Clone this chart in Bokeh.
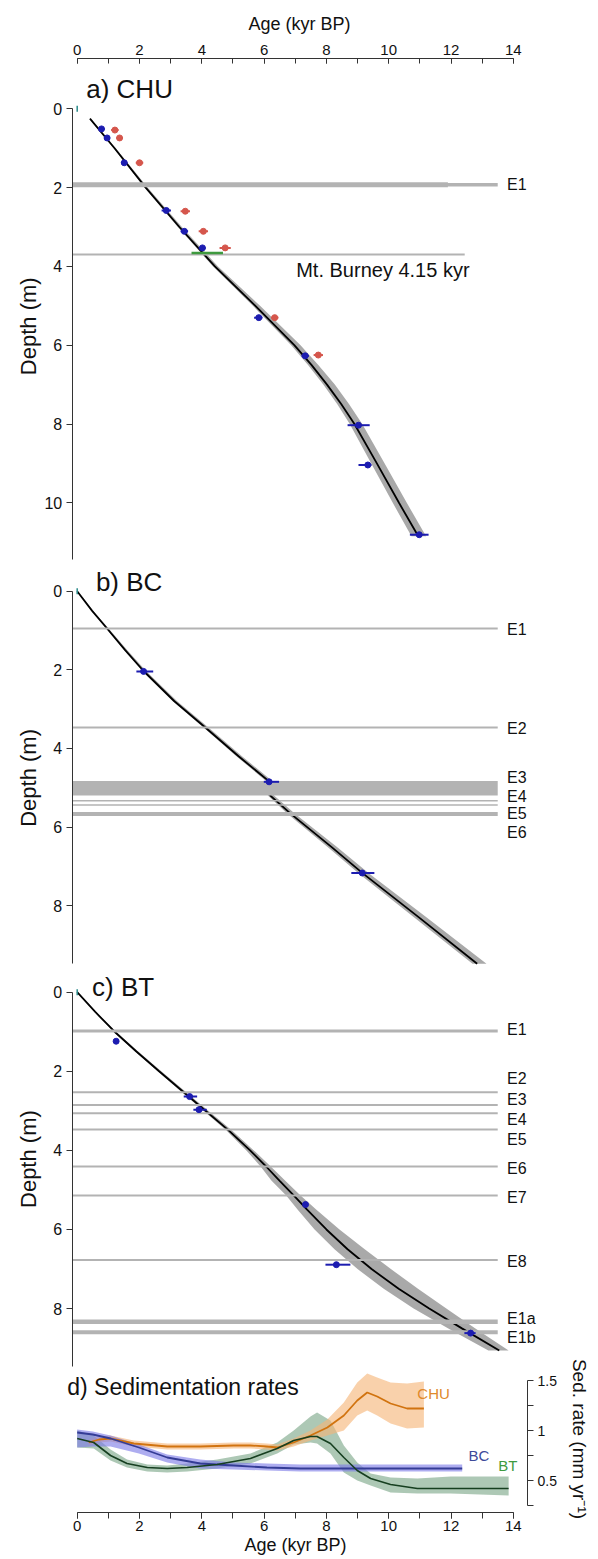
import numpy as np
from bokeh.plotting import figure
from bokeh.layouts import column
from bokeh.models import Range1d, LinearAxis, SingleIntervalTicker, FixedTicker
from bokeh.core.properties import value
from bokeh.embed import file_html
from bokeh.resources import INLINE

# ======================= DATA =======================
# a) CHU : age-depth model (depth m -> age kyr BP) and envelope offsets
chu_depth = [0.25, 1.0, 2.0, 3.0, 4.0, 5.0, 6.0, 6.5, 7.0, 7.5, 8.0, 9.0, 10.0, 10.85]
chu_age = [0.41, 1.2, 2.2, 3.28, 4.42, 5.72, 6.97, 7.52, 8.02, 8.48, 8.90, 9.62, 10.33, 10.95]
chu_env_lo = [0.02, 0.03, 0.04, 0.05, 0.06, 0.08, 0.10, 0.11, 0.12, 0.13, 0.15, 0.18, 0.20, 0.22]
chu_env_hi = [0.02, 0.04, 0.06, 0.08, 0.10, 0.15, 0.20, 0.22, 0.25, 0.25, 0.25, 0.25, 0.25, 0.25]
chu_date_age = [0.78, 0.96, 1.51, 2.86, 3.44, 4.02, 5.83, 7.32, 9.03, 9.33, 10.98]
chu_date_depth = [0.51, 0.74, 1.37, 2.58, 3.11, 3.53, 5.30, 6.27, 8.03, 9.04, 10.81]
chu_date_elo = [0.10, 0.10, 0.10, 0.15, 0.12, 0.12, 0.15, 0.12, 0.35, 0.30, 0.30]
chu_date_ehi = [0.10, 0.08, 0.10, 0.15, 0.12, 0.10, 0.12, 0.12, 0.36, 0.12, 0.30]
chu_raw_age = [1.21, 1.36, 2.00, 3.47, 4.05, 4.75, 6.34, 7.74]
chu_raw_depth = [0.54, 0.74, 1.37, 2.60, 3.11, 3.53, 5.30, 6.25]
chu_raw_err = [0.12, 0.10, 0.12, 0.15, 0.15, 0.18, 0.12, 0.15]
chu_tephra_depth = [3.66]
chu_tephra_age_min = [3.67]
chu_tephra_age_max = [4.68]
chu_event_depth = [1.93, 1.93, 3.70]
chu_event_end = [11.9, 13.5, 12.44]
chu_label_text = ["E1"]
chu_label_depth = [1.93]
burney_text = "Mt. Burney 4.15 kyr"

# b) BC
bc_depth = [0, 0.5, 0.95, 1.5, 2.03, 2.8, 3.5, 4.2, 4.84, 5.2, 5.66, 6.5, 7.18, 8.3, 9.48]
bc_age = [0, 0.48, 0.96, 1.54, 2.13, 3.12, 4.16, 5.18, 6.16, 6.2, 6.85, 8.15, 9.17, 10.97, 12.84]
bc_env_lo = [0, 0.02, 0.03, 0.03, 0.04, 0.05, 0.06, 0.07, 0.08, 0.08, 0.10, 0.12, 0.13, 0.15, 0.15]
bc_env_hi = [0, 0.03, 0.05, 0.07, 0.08, 0.09, 0.10, 0.11, 0.12, 0.12, 0.14, 0.18, 0.20, 0.25, 0.30]
bc_date_age = [2.13, 6.16, 9.15]
bc_date_depth = [2.04, 4.85, 7.17]
bc_date_elo = [0.23, 0.17, 0.35]
bc_date_ehi = [0.31, 0.32, 0.39]
bc_event_depth = [0.95, 3.47, 5.33, 5.44, 5.67]
bc_event_band = [4.83, 5.20]
bc_label_text = ["E1", "E2", "E3", "E4", "E5", "E6"]
bc_label_depth = [0.98, 3.50, 4.73, 5.22, 5.66, 6.15]

# c) BT
bt_depth = [0, 0.5, 1.0, 1.5, 2.0, 2.65, 3.5, 4.0, 4.42, 4.77, 5.14, 5.5, 6.0, 6.5, 7.0, 7.5, 8.0, 8.5, 9.06]
bt_age = [0, 0.58, 1.2, 1.9, 2.63, 3.6, 4.87, 5.55, 6.08, 6.5, 6.95, 7.38, 8.0, 8.68, 9.45, 10.32, 11.3, 12.35, 13.55]
bt_env_lo = [0, 0.02, 0.03, 0.04, 0.05, 0.06, 0.08, 0.12, 0.18, 0.26, 0.24, 0.30, 0.38, 0.42, 0.45, 0.48, 0.50, 0.45, 0.35]
bt_env_hi = [0, 0.03, 0.05, 0.06, 0.07, 0.08, 0.10, 0.12, 0.15, 0.18, 0.22, 0.30, 0.42, 0.55, 0.62, 0.62, 0.55, 0.42, 0.30]
bt_date_age = [1.25, 3.61, 3.91, 7.33, 8.32, 12.63]
bt_date_depth = [1.24, 2.64, 2.97, 5.37, 6.89, 8.62]
bt_date_elo = [0.08, 0.19, 0.18, 0.07, 0.35, 0.20]
bt_date_ehi = [0.08, 0.24, 0.25, 0.07, 0.45, 0.16]
bt_event_depth = [0.98, 2.53, 2.85, 3.06, 3.47, 4.41, 5.14, 6.77, 8.33, 8.60]
bt_label_text = ["E1", "E2", "E3", "E4", "E5", "E6", "E7", "E8", "E1a", "E1b"]
bt_label_depth = [0.94, 2.19, 2.71, 3.22, 3.73, 4.45, 5.18, 6.81, 8.26, 8.72]

# d) Sedimentation rates (age kyr BP -> mm/yr)
sr_chu_age = [0.37, 0.7, 1.07, 1.82, 2.89, 3.95, 5.02, 5.56, 6.09, 6.42, 6.95, 7.49, 8.03, 8.56, 8.99, 9.31, 9.63, 10.06, 10.59, 11.13]
sr_chu = [0.88, 0.91, 0.92, 0.87, 0.84, 0.84, 0.85, 0.85, 0.84, 0.83, 0.88, 0.95, 1.03, 1.15, 1.30, 1.38, 1.34, 1.27, 1.22, 1.22]
sr_chu_lo = [0.03, 0.03, 0.03, 0.03, 0.03, 0.03, 0.03, 0.03, 0.03, 0.03, 0.04, 0.05, 0.08, 0.15, 0.15, 0.18, 0.19, 0.20, 0.20, 0.19]
sr_chu_hi = [0.03, 0.03, 0.03, 0.03, 0.03, 0.03, 0.03, 0.03, 0.03, 0.03, 0.04, 0.05, 0.08, 0.13, 0.18, 0.19, 0.19, 0.21, 0.25, 0.27]
sr_bc_age = [0, 0.5, 1.07, 1.98, 2.89, 3.95, 5.02, 6.09, 7.16, 8.5, 10.0, 11.5, 12.36]
sr_bc = [0.98, 0.96, 0.92, 0.83, 0.73, 0.67, 0.65, 0.63, 0.62, 0.62, 0.62, 0.62, 0.62]
sr_bc_lo = [0.15, 0.12, 0.08, 0.06, 0.05, 0.05, 0.04, 0.03, 0.03, 0.03, 0.03, 0.03, 0.03]
sr_bc_hi = [0.03, 0.03, 0.03, 0.03, 0.03, 0.04, 0.03, 0.04, 0.04, 0.04, 0.04, 0.04, 0.04]
sr_bt_age = [0, 0.53, 1.07, 1.6, 2.25, 2.89, 3.53, 4.49, 5.56, 6.42, 6.95, 7.49, 7.7, 8.13, 8.56, 8.99, 9.42, 10.06, 10.92, 11.99, 13.85]
sr_bt = [0.92, 0.88, 0.75, 0.67, 0.63, 0.62, 0.63, 0.66, 0.72, 0.82, 0.90, 0.94, 0.94, 0.87, 0.73, 0.60, 0.52, 0.46, 0.42, 0.42, 0.42]
sr_bt_lo = [0.09, 0.06, 0.05, 0.04, 0.04, 0.04, 0.04, 0.04, 0.05, 0.05, 0.04, 0.06, 0.07, 0.10, 0.15, 0.10, 0.07, 0.08, 0.05, 0.05, 0.07]
sr_bt_hi = [0.08, 0.07, 0.06, 0.04, 0.03, 0.03, 0.04, 0.05, 0.05, 0.06, 0.10, 0.20, 0.24, 0.23, 0.12, 0.08, 0.05, 0.07, 0.10, 0.12, 0.12]
sr_labels = ["CHU", "BC", "BT"]

age_axis_label = "Age (kyr BP)"
depth_axis_label = "Depth (m)"
rate_axis_label = "Sed. rate (mm yr\u207b\u00b9)"

# ======================= STYLE / GEOMETRY =======================
FONT = "Liberation Sans"
EV = "#b3b3b3"
BAND = "#a9a9a9"
BLUE = "#1c1cb0"
RED = "#d5564c"
AXC = "#333333"
TXT = "#111111"
W = 598
PX_PER_KYR = 31.15
AGE0_PX = 76.7


def px2age(px):
    return (px - AGE0_PX) / PX_PER_KYR


AXIS_X = px2age(71.7)        # left depth axes
RATE_AXIS_X = px2age(527)    # right sed-rate axis
DEPTH_LAB_X = px2age(28)
RATE_LAB_X = px2age(579)
LABEL_X = 13.8               # event labels


def xr():
    return Range1d(px2age(0), px2age(W))


def style_axis(ax, fs):
    ax.axis_line_color = AXC
    ax.major_tick_line_color = AXC
    ax.minor_tick_line_color = AXC
    ax.major_label_text_font = FONT
    ax.major_label_text_font_size = fs
    ax.major_label_text_color = TXT
    ax.axis_label_text_font = FONT
    ax.axis_label_text_font_style = "normal"
    ax.axis_label_text_color = TXT


def txt(p, x, y, t, fs, color=TXT, **kw):
    p.text(x=[x], y=[y], text=[t], text_font=value(FONT), text_font_size=fs,
           text_baseline="middle", text_color=color, **kw)


def depth_panel(h, ybot, ytop, btop, axis_end, lab_depth):
    p = figure(width=W, height=h, x_range=xr(), y_range=Range1d(ybot, ytop),
               x_axis_type=None, y_axis_type=None, output_backend="svg",
               toolbar_location=None, min_border_left=0, min_border_right=0,
               min_border_top=btop, min_border_bottom=0, outline_line_color=None)
    ya = LinearAxis(ticker=SingleIntervalTicker(interval=2, num_minor_ticks=0),
                    bounds=(0, axis_end), fixed_location=AXIS_X)
    style_axis(ya, "16px")
    ya.major_tick_out = 6
    ya.major_tick_in = 0
    ya.major_label_standoff = 4
    p.add_layout(ya, "left")
    txt(p, DEPTH_LAB_X, lab_depth, depth_axis_label, "22px", angle=np.pi / 2, text_align="center")
    return p


def draw_model(p, depth, age, lo, hi):
    d = np.array(depth)
    a = np.array(age)
    p.harea(x1=a - np.array(lo), x2=a + np.array(hi), y=d, fill_color=BAND, fill_alpha=1.0)
    p.line(a, d, line_color="black", line_width=1.8)


def draw_dates(p, age, depth, elo, ehi, color):
    a = np.array(age)
    d = np.array(depth)
    p.segment(x0=a - np.array(elo), y0=d, x1=a + np.array(ehi), y1=d, line_color=color, line_width=2)
    p.scatter(a, d, marker="circle", size=6, fill_color=color, line_color=color)


def draw_labels(p, texts, depths):
    p.text(x=[LABEL_X] * len(texts), y=depths, text=texts, text_font=value(FONT),
           text_font_size="16px", text_baseline="middle", text_color=TXT)


def surface_mark(p):
    p.scatter([0], [0], marker="dash", angle=np.pi / 2, size=6, line_color="#2a8a8a", line_width=1.5)


def events(p, depths, widths, end=13.5):
    ends = end if isinstance(end, list) else [end] * len(depths)
    p.segment(x0=[AXIS_X] * len(depths), y0=depths, x1=ends, y1=depths, line_color=EV, line_width=widths)


# ---------------- panel a ----------------
pa = depth_panel(565, 11.591, -1.2766, 58, 11.45, 5.52)
xa = LinearAxis(ticker=SingleIntervalTicker(interval=2, num_minor_ticks=2),
                bounds=(0, 14), axis_label=age_axis_label)
style_axis(xa, "15px")
xa.major_tick_in = 5
xa.major_tick_out = 0
xa.minor_tick_in = 5
xa.minor_tick_out = 0
xa.major_label_standoff = 4
xa.axis_label_text_font_size = "18px"
xa.axis_label_standoff = 8
pa.add_layout(xa, "above")
draw_model(pa, chu_depth, chu_age, chu_env_lo, chu_env_hi)
events(pa, chu_event_depth, [5, 3.5, 2], end=chu_event_end)
pa.segment(x0=chu_tephra_age_min, y0=chu_tephra_depth, x1=chu_tephra_age_max, y1=chu_tephra_depth,
           line_color="#3f9a3f", line_width=2.5)
draw_dates(pa, chu_raw_age, chu_raw_depth, chu_raw_err, chu_raw_err, RED)
draw_dates(pa, chu_date_age, chu_date_depth, chu_date_elo, chu_date_ehi, BLUE)
surface_mark(pa)
draw_labels(pa, chu_label_text, chu_label_depth)
txt(pa, 7.03, 4.09, burney_text, "20px")
txt(pa, 0.29, -0.51, "a) CHU", "26px")

# ---------------- panel b ----------------
pb = depth_panel(403, 9.60, -0.654, 0, 9.48, 4.75)
draw_model(pb, bc_depth, bc_age, bc_env_lo, bc_env_hi)
pb.hbar(y=[(bc_event_band[0] + bc_event_band[1]) / 2], height=[bc_event_band[1] - bc_event_band[0]],
        left=[AXIS_X], right=[13.5], fill_color=EV, line_color=None)
events(pb, bc_event_depth, [2, 2, 1.5, 1.5, 4])
draw_dates(pb, bc_date_age, bc_date_depth, bc_date_elo, bc_date_ehi, BLUE)
surface_mark(pb)
draw_labels(pb, bc_label_text, bc_label_depth)
txt(pb, 0.60, -0.23, "b) BC", "26px")

# ---------------- panels c + d (one canvas, two y scales) ----------------
pc = depth_panel(591, 14.344, -0.599, 0, 9.456, 4.22)
pc.extra_y_ranges = {"rate": Range1d(-0.29, 5.62)}
draw_model(pc, bt_depth, bt_age, bt_env_lo, bt_env_hi)
events(pc, bt_event_depth, [3, 2, 2, 2, 2, 2, 2, 2, 4.5, 4])
draw_dates(pc, bt_date_age, bt_date_depth, bt_date_elo, bt_date_ehi, BLUE)
surface_mark(pc)
draw_labels(pc, bt_label_text, bt_label_depth)
txt(pc, 0.475, -0.13, "c) BT", "26px")

xb = LinearAxis(y_range_name="rate", fixed_location=0.18,
                ticker=SingleIntervalTicker(interval=2, num_minor_ticks=2),
                bounds=(0, 14), axis_label=age_axis_label)
style_axis(xb, "15px")
xb.major_tick_out = 6
xb.major_tick_in = 0
xb.minor_tick_out = 6
xb.minor_tick_in = 0
xb.major_label_standoff = 2
xb.axis_label_text_font_size = "18px"
xb.axis_label_standoff = 1
pc.add_layout(xb, "below")
yr = LinearAxis(y_range_name="rate", fixed_location=RATE_AXIS_X,
                ticker=FixedTicker(ticks=[0.5, 1, 1.5], minor_ticks=[0.25, 0.75, 1.25]),
                bounds=(0.249, 1.5),
                major_label_overrides={0.5: "0.5", 1: "1", 1.5: "1.5"})
style_axis(yr, "14px")
yr.major_tick_out = 6
yr.major_tick_in = 0
yr.minor_tick_out = 6
yr.minor_tick_in = 0
yr.major_label_standoff = 4
yr.major_label_orientation = "horizontal"
pc.add_layout(yr, "right")
txt(pc, RATE_LAB_X, 0.915, rate_axis_label, "19px", angle=-np.pi / 2, text_align="center",
    y_range_name="rate")


def rate_band(p, age, v, lo, hi, fill):
    v = np.array(v)
    p.varea(x=age, y1=v - np.array(lo), y2=v + np.array(hi), fill_color=fill, fill_alpha=0.62,
            y_range_name="rate")


rate_band(pc, sr_bt_age, sr_bt, sr_bt_lo, sr_bt_hi, "#7aa687")
rate_band(pc, sr_chu_age, sr_chu, sr_chu_lo, sr_chu_hi, "#f6b478")
rate_band(pc, sr_bc_age, sr_bc, sr_bc_lo, sr_bc_hi, "#7d7be6")
pc.line(sr_chu_age, sr_chu, line_color="#d1730f", line_width=1.8, y_range_name="rate")
pc.line(sr_bc_age, sr_bc, line_color="#343c96", line_width=1.8, y_range_name="rate")
pc.line(sr_bt_age, sr_bt, line_color="#163f20", line_width=1.6, y_range_name="rate")
pc.text(x=[10.92, 12.56, 13.52], y=[1.367, 0.75, 0.65], text=sr_labels, text_font=value(FONT),
        text_font_size="15px", text_baseline="middle",
        text_color=["#e0892a", "#3d4a9a", "#3f9a3f"], y_range_name="rate")
txt(pc, -0.32, 1.433, "d) Sedimentation rates", "23px", y_range_name="rate")

layout = column(pa, pb, pc, spacing=0)
open("out.html", "w").write(file_html(layout, INLINE))
